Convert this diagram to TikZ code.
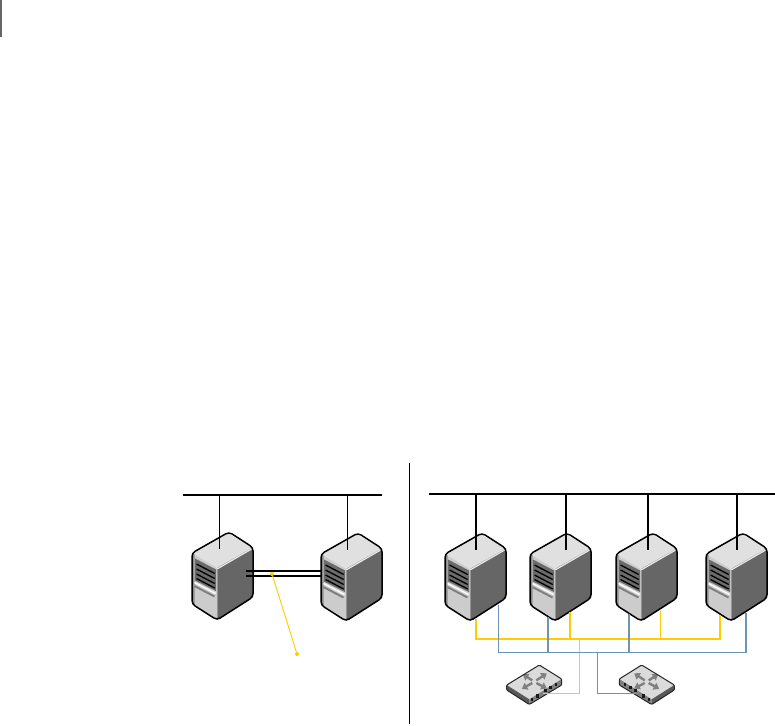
\documentclass[tikz,border=0pt]{standalone}
\usetikzlibrary{arrows.meta,calc}
\definecolor{ybl}{HTML}{FFCC00}
\definecolor{bbl}{HTML}{6F93B2}
\tikzset{
 x=1pt,y=-1pt,
 bus/.style={draw=black,line width=2.5pt},
 thindrop/.style={draw=black,line width=1.4pt},
 thickdrop/.style={draw=black,line width=2.6pt},
 yellowthick/.style={draw=ybl,line width=2pt},
 yellowthin/.style={draw=ybl,line width=1.2pt},
 bluethick/.style={draw=bbl,line width=2pt},
 bluethin/.style={draw=bbl,line width=1.2pt},
 yellowdot/.style={circle,fill=ybl,inner sep=0pt,minimum size=4pt},
 server/.pic={
  \fill[fill=black!12,rounded corners=1.5pt] (0,20)--(36,0.5)--(61,14.5)--(25,35)--cycle;
  \fill[fill=black!20] (0,20)--(25,35)--(25,87)--(0,71)--cycle;
  \fill[fill=black!60] (25,35)--(61,14.5)--(61,64)--(25,87)--cycle;
  \fill[black!45] (0.5,20)--(2.5,21.5)--(2.5,72)--(0.5,71)--cycle;
  \draw[white!92!black,line width=1.2pt] (25,36)--(60.5,15.5);
  \draw[black!42,line width=1.2pt] (25.5,36)--(25.5,86);
  \fill[black!58] (3,25.5)--(24,36.5)--(24,58)--(3,47.5)--cycle;
  \draw[black,line width=1.3pt] (4.5,31)--(22.7,40.5) (4.5,36)--(22.7,45.5) (4.5,41)--(22.7,50.5) (4.5,45.5)--(22.7,55);
  \draw[white,line width=1.4pt] (2.5,49.5)--(23.5,60.5);
  \draw[black!50,line width=2pt] (2.5,53)--(22.5,63.5);
  \draw[black,line width=1.5pt,rounded corners=3.5pt,line join=round]
    (0,20)--(37,-1)--(61,14.5)--(61,64)--(25,87)--(0,71)--cycle;
  \coordinate (-in) at (27.5,16);
 },
 switchbox/.pic={
  \fill[black!14] (0,0)--(22.4,14)--(-10,34.3)--(-32.6,20)--cycle;
  \fill[black!50] (-10,34.3)--(22.4,14)--(22.4,20)--(-10,39.5)--cycle;
  \fill[black!65] (-32.6,20)--(-10,34.3)--(-10,39.5)--(-32.6,25)--cycle;
  \foreach \t in {0.08,0.24,0.5,0.66,0.82}{
    \fill[black!90] ($(-10,34.3)!\t!(22.4,14)+(-1.3,0)$) rectangle ++(2.8,3.2);
  }
  \begin{scope}[shift={(-5,16.7)},black!50,line width=2.4pt,-{Triangle[length=5.5pt,width=7.5pt]}]
   \draw (-2,-1.3)--(-11.5,-7.4);
   \draw (2,-1.3)--(12.5,-8.4);
   \draw (-2,1.3)--(-12.5,7.2);
   \draw (2,1.3)--(12.5,6.8);
  \end{scope}
  \draw[black!85,line width=1pt,rounded corners=1pt,line join=round]
    (0,0)--(22.4,14)--(22.4,20)--(-10,39.5)--(-32.6,25)--(-32.6,20)--cycle;
 }
}
\begin{document}
\begin{tikzpicture}
\useasboundingbox (0,0) rectangle (775,725);
% top-left rule
\coordinate (ruleA) at (1,0); \coordinate (ruleB) at (1,37);
\draw[black!60,line width=1.6pt] (ruleA)--(ruleB);
% divider
\coordinate (divA) at (409,463); \coordinate (divB) at (409,724);
\draw[black,line width=0.9pt] (divA)--(divB);
% servers
\pic (s1) at (192,533) {server};
\pic (s2) at (321,534) {server};
\pic (s3) at (445,534) {server};
\pic (s4) at (530,534) {server};
\pic (s5) at (616,534) {server};
\pic (s6) at (706,534) {server};
% switches
\pic (swa) at (539.3,665) {switchbox};
\pic[xscale=-1] (swb) at (641.7,665) {switchbox};
% left cluster
\coordinate (lbusA) at (183,495); \coordinate (lbusB) at (382,495);
\draw[bus] (lbusA)--(lbusB);
\coordinate (ld1) at (219.5,495); \coordinate (ld2) at (347.5,495);
\draw[thindrop] (ld1)--(ld1|-s1-in);
\draw[thindrop] (ld2)--(ld2|-s2-in);
\coordinate (linkAa) at (246,571); \coordinate (linkAb) at (321,571);
\coordinate (linkBa) at (246,576); \coordinate (linkBb) at (321,576);
\draw[thindrop] (linkAa)--(linkAb);
\draw[draw=black,line width=2.2pt] (linkBa)--(linkBb);
\node[yellowdot] (dotA) at (272,574) {};
\node[yellowdot] (dotB) at (297,654) {};
\draw[draw=ybl,line width=0.9pt] (dotA)--(dotB);
% right cluster
\coordinate (rbusA) at (429,494); \coordinate (rbusB) at (775,494);
\draw[bus] (rbusA)--(rbusB);
\foreach \n/\x in {s3/476,s4/566,s5/648,s6/737}{
  \coordinate (drop) at (\x,494);
  \draw[thickdrop] (drop)--(drop|-\n-in);
}
% yellow network
\coordinate (yA) at (476,638.5); \coordinate (yB) at (719.5,638.5);
\coordinate (y1) at (476,619); \coordinate (y2) at (570,612);
\coordinate (y3) at (660.5,611); \coordinate (y4) at (719.5,615);
\coordinate (yj2) at (570,638.5); \coordinate (yj3) at (660.5,638.5);
\coordinate (ys) at (579.5,638.5); \coordinate (ysc) at (579.5,693.5);
\coordinate (ysw) at (543,693.5);
\draw[yellowthick,line join=miter] (y1)--(yA)--(yB)--(y4);
\draw[yellowthin] (y2)--(yj2);
\draw[yellowthin] (y3)--(yj3);
\draw[yellowthin] (ys)--(ysc)--(ysw);
% blue network
\coordinate (bA) at (498.5,652.5); \coordinate (bB) at (746,652.5);
\coordinate (b1) at (498.5,605); \coordinate (b2) at (548,617);
\coordinate (b3) at (629,614); \coordinate (b4) at (746,613);
\coordinate (bj2) at (548,652.5); \coordinate (bj3) at (629,652.5);
\coordinate (bs) at (597.5,652.5); \coordinate (bsc) at (597.5,693.5);
\coordinate (bsw) at (638,693.5);
\draw[bluethin] (b1)--(bA)--(bB)--(b4);
\draw[bluethick] (b2)--(bj2);
\draw[bluethick] (b3)--(bj3);
\draw[bluethin] (bs)--(bsc)--(bsw);
\end{tikzpicture}
\end{document}
